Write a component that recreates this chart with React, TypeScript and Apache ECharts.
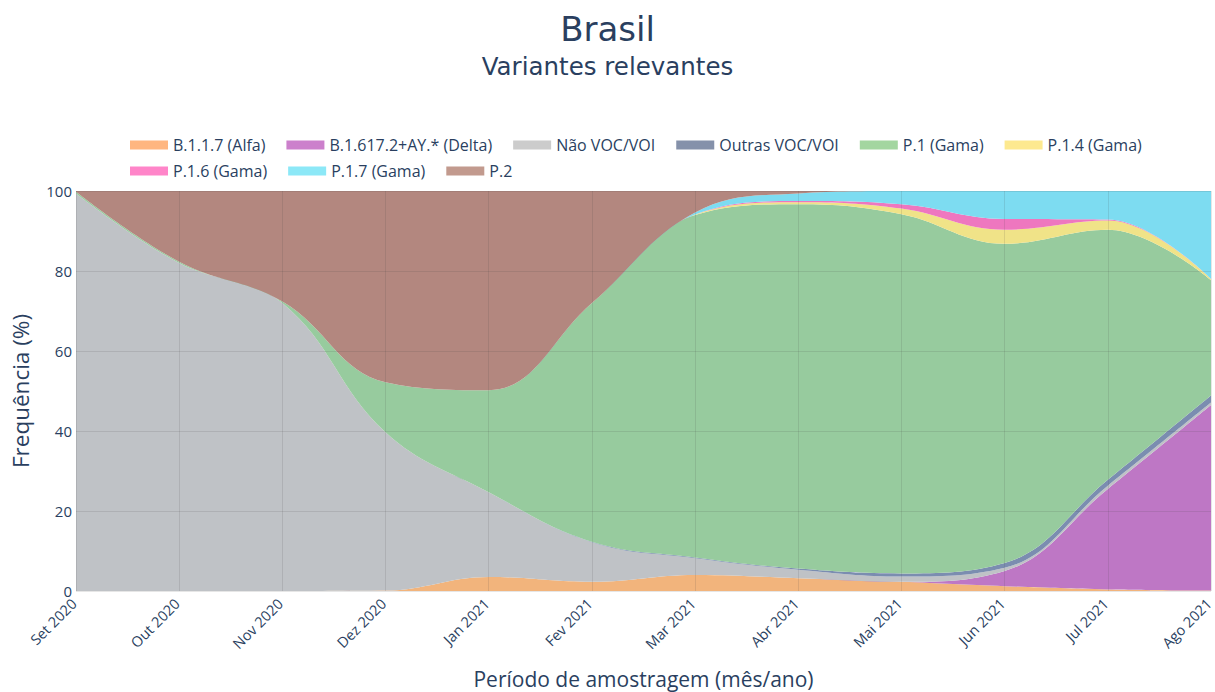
import React, { useEffect, useRef } from "react";
import * as echarts from "echarts";

const months = ["Set 2020", "Out 2020", "Nov 2020", "Dez 2020", "Jan 2021", "Fev 2021", "Mar 2021", "Abr 2021", "Mai 2021", "Jun 2021", "Jul 2021", "Ago 2021"];
const yTicks = [0, 20, 40, 60, 80, 100];

const alfa = [0, 0, 0, 0.1, 3.5, 2.3, 4.0, 3.2, 2.3, 1.2, 0.4, 0.1];
const delta = [0, 0, 0, 0, 0, 0, 0, 0, 0, 3.8, 25.1, 46.4];
const naoVoc = [99.4, 82, 72, 39.6, 21.2, 9.9, 4.2, 2.1, 1.3, 0.8, 0.8, 0.6];
const outras = [0, 0, 0, 0, 0, 0.1, 0.2, 0.3, 0.8, 1.2, 1.5, 1.8];
const p1 = [0.4, 0.3, 0.4, 12.5, 25.5, 59.7, 85.6, 91.1, 89.8, 79.8, 62.5, 28.8];
const p14 = [0, 0, 0, 0, 0, 0, 0.1, 0.5, 1.4, 3.5, 2.3, 0.3];
const p16 = [0, 0, 0, 0, 0, 0, 0.05, 0.3, 1.1, 2.7, 0.3, 0];
const p17 = [0, 0, 0, 0, 0, 0, 0.5, 1.9, 3.3, 7, 7.1, 22];
const p2 = [0.2, 17.7, 27.6, 47.8, 49.8, 28, 5.35, 0.6, 0, 0, 0, 0];

const seriesNames = ["B.1.1.7 (Alfa)", "B.1.617.2+AY.* (Delta)", "Não VOC/VOI", "Outras VOC/VOI", "P.1 (Gama)", "P.1.4 (Gama)", "P.1.6 (Gama)", "P.1.7 (Gama)", "P.2"];
const seriesData = [alfa, delta, naoVoc, outras, p1, p14, p16, p17, p2];
const areaColors = ["#f2b47c", "#be77c5", "#bfc2c6", "#7b8db0", "#97cb9e", "#f0e388", "#ee77bf", "#7ddcf1", "#b3877f"];
const legendColors = ["#ffb680", "#cc80cc", "#cccccc", "#8591aa", "#a3d6a0", "#fde98f", "#ff85c9", "#8ce8f7", "#c29a8e"];

const FONT = "'Open Sans', 'Liberation Sans', sans-serif";
const TXT = "#2a3f5f";

export default function App() {
  const ref = useRef<HTMLDivElement>(null);
  useEffect(() => {
    if (!ref.current) return;
    const chart = echarts.init(ref.current, null, { renderer: "svg" });
    const legendBase = {
      left: 125,
      itemWidth: 38,
      itemHeight: 9,
      itemGap: 21,
      icon: "rect",
      orient: "horizontal",
      textStyle: { fontFamily: FONT, fontSize: 16, color: TXT },
    };
    const legendItem = (i: number) => ({ name: seriesNames[i], itemStyle: { color: legendColors[i] } });
    const option: any = {
      animation: false,
      backgroundColor: "#ffffff",
      title: {
        text: "Brasil",
        subtext: "Variantes relevantes",
        left: "center",
        top: 7,
        itemGap: 8,
        textStyle: { fontFamily: "'DejaVu Sans', sans-serif", fontSize: 34, fontWeight: "normal", color: TXT },
        subtextStyle: { fontFamily: "'DejaVu Sans', sans-serif", fontSize: 24.5, color: TXT },
      },
      legend: [
        { ...legendBase, top: 132, data: [0, 1, 2, 3, 4, 5].map(legendItem) },
        { ...legendBase, top: 158, data: [6, 7, 8].map(legendItem) },
      ],
      grid: { left: 76, right: 4, top: 191, bottom: 101, outerBoundsMode: "none", containLabel: false },
      xAxis: {
        type: "category",
        data: months,
        boundaryGap: false,
        z: 10,
        axisLine: { show: false },
        axisTick: { show: false },
        axisLabel: { rotate: 45, fontFamily: FONT, fontSize: 14.5, color: TXT, margin: 8, interval: 0, padding: [0, 3, 0, 0] },
        splitLine: { show: true, lineStyle: { color: "rgba(60,60,60,0.13)", width: 1 } },
        name: "Período de amostragem (mês/ano)",
        nameLocation: "middle",
        nameGap: 77,
        nameTextStyle: { fontFamily: FONT, fontSize: 21, color: TXT },
      },
      yAxis: {
        type: "value",
        min: yTicks[0],
        max: yTicks[yTicks.length - 1],
        interval: 20,
        z: 10,
        axisLine: { show: false },
        axisTick: { show: false },
        axisLabel: { fontFamily: FONT, fontSize: 15, color: TXT, margin: 4 },
        splitLine: { show: true, lineStyle: { color: "rgba(60,60,60,0.13)", width: 1 } },
        name: "Frequência (%)",
        nameLocation: "middle",
        nameGap: 44,
        nameTextStyle: { fontFamily: FONT, fontSize: 22.5, color: TXT },
      },
      series: seriesNames.map((n, i) => ({
        name: n,
        type: "line",
        stack: "total",
        data: seriesData[i],
        smooth: 0.4,
        symbol: "none",
        lineStyle: { width: 0, opacity: 0 },
        itemStyle: { color: legendColors[i] },
        areaStyle: { color: areaColors[i], opacity: 1 },
      })),
    };
    chart.setOption(option);
    return () => chart.dispose();
  }, []);
  return <div ref={ref} style={{ width: 1215, height: 692, position: "absolute", left: 0, top: 0 }} />;
}
